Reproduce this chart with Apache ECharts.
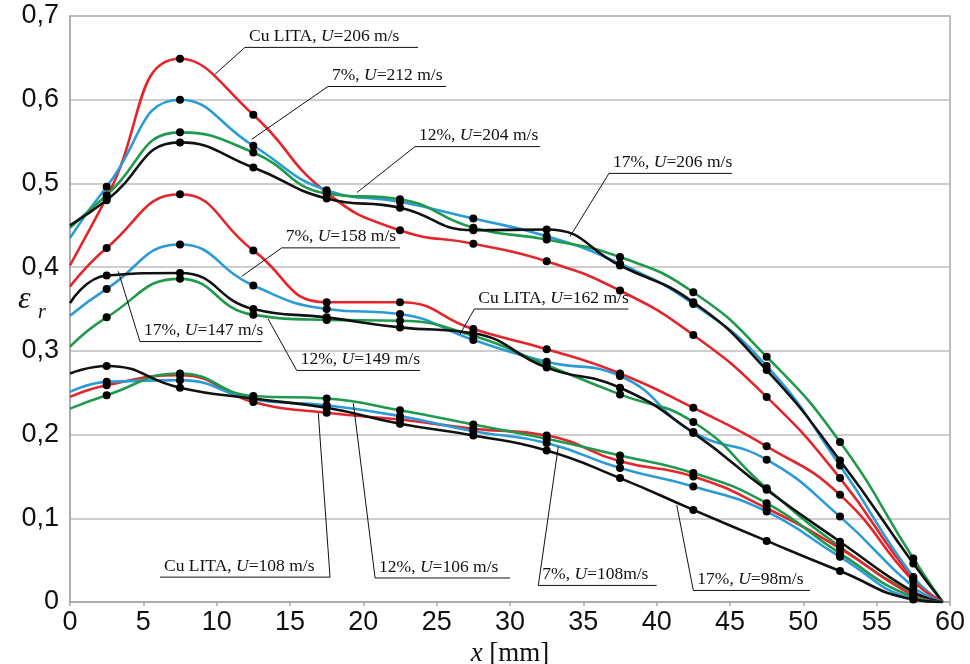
<!DOCTYPE html>
<html>
<head>
<meta charset="utf-8">
<script src="https://cdn.jsdelivr.net/npm/echarts@6/dist/echarts.min.js"></script>
<style>
  html, body { margin: 0; padding: 0; background: #fff; }
  #main { width: 970px; height: 664px; }
</style>
</head>
<body>
<div id="main"></div>
<script>
// x positions of the measurement points [mm]
const xPos = [0, 2.5, 7.5, 12.5, 17.5, 22.5, 27.5, 32.5, 37.5, 42.5, 47.5, 52.5, 57.5, 59.5];

// U ~ 205 m/s
const cuHigh  = [0.402, 0.483, 0.649, 0.582, 0.489, 0.444, 0.428, 0.407, 0.372, 0.319, 0.245, 0.148, 0.028, 0];
const p7High  = [0.435, 0.496, 0.600, 0.545, 0.492, 0.478, 0.458, 0.437, 0.404, 0.356, 0.282, 0.163, 0.030, 0];
const p12High = [0.447, 0.486, 0.561, 0.537, 0.488, 0.481, 0.447, 0.433, 0.412, 0.370, 0.293, 0.191, 0.052, 0];
const p17High = [0.450, 0.480, 0.549, 0.519, 0.482, 0.471, 0.444, 0.445, 0.402, 0.358, 0.277, 0.169, 0.046, 0];

// U ~ 150 m/s
const cuMid  = [0.377, 0.423, 0.487, 0.420, 0.358, 0.358, 0.326, 0.302, 0.273, 0.232, 0.186, 0.128, 0.025, 0];
const p7Mid  = [0.342, 0.374, 0.427, 0.378, 0.350, 0.344, 0.313, 0.287, 0.270, 0.203, 0.170, 0.102, 0.018, 0];
const p12Mid = [0.305, 0.340, 0.386, 0.343, 0.337, 0.336, 0.318, 0.283, 0.248, 0.215, 0.136, 0.066, 0.010, 0];
const p17Mid = [0.357, 0.390, 0.393, 0.350, 0.340, 0.328, 0.321, 0.280, 0.256, 0.202, 0.134, 0.072, 0.012, 0];

// U ~ 105 m/s
const cuLow  = [0.245, 0.259, 0.271, 0.239, 0.226, 0.218, 0.207, 0.199, 0.168, 0.150, 0.112, 0.064, 0.008, 0];
const p7Low  = [0.251, 0.263, 0.265, 0.242, 0.235, 0.222, 0.204, 0.190, 0.160, 0.138, 0.108, 0.054, 0.004, 0];
const p12Low = [0.231, 0.247, 0.273, 0.246, 0.243, 0.229, 0.212, 0.195, 0.175, 0.154, 0.118, 0.058, 0.006, 0];
const p17Low = [0.273, 0.282, 0.256, 0.243, 0.232, 0.213, 0.199, 0.181, 0.148, 0.110, 0.073, 0.037, 0.003, 0];

// curve labels
const labelTexts = [
  'Cu LITA, {i|U}=206 m/s', '7%, {i|U}=212 m/s', '12%, {i|U}=204 m/s', '17%, {i|U}=206 m/s',
  '7%, {i|U}=158 m/s', 'Cu LITA, {i|U}=162 m/s', '17%, {i|U}=147 m/s', '12%, {i|U}=149 m/s',
  'Cu LITA, {i|U}=108 m/s', '12%, {i|U}=106 m/s', '7%, {i|U}=108m/s', '17%, {i|U}=98m/s'
];

// where each label sits (data units): underline x1, x2, y, leader end x, y, leader side
const labelPlace = [
  [11.93, 23.73, 0.6625, 9.89, 0.6305, 'l'],
  [17.59, 25.64, 0.6158, 12.39, 0.5527, 'l'],
  [23.52, 32.05, 0.5440, 19.57, 0.4892, 'l'],
  [36.75, 45.14, 0.5120, 34.09, 0.4365, 'l'],
  [14.43, 22.50, 0.4230, 11.71, 0.3890, 'l'],
  [27.57, 38.07, 0.3500, 26.59, 0.3198, 'l'],
  [4.77, 13.09, 0.3111, 3.29, 0.3950, 'l'],
  [15.46, 23.86, 0.2766, 13.50, 0.3383, 'l'],
  [6.14, 17.73, 0.0297, 16.93, 0.2254, 'r'],
  [20.80, 30.00, 0.0287, 19.32, 0.2374, 'l'],
  [31.93, 40.00, 0.0198, 33.29, 0.1854, 'l'],
  [42.50, 50.45, 0.0138, 41.37, 0.1156, 'l']
];

const RED = '#e3262b', BLUE = '#2b9bd8', GREEN = '#1f9a4c', BLACK = '#111111';
const SERIF = '"Liberation Serif", "Times New Roman", serif';
const SANS = '"Liberation Sans Narrow", "Arial Narrow", "Liberation Sans", sans-serif';

const toData = (ys) => xPos.map((x, i) => [x, ys[i]]);

const makeSeries = (name, ys, color) => ({
  name: name,
  type: 'line',
  data: toData(ys),
  smooth: 0.5,
  smoothConstraint: false,
  symbol: 'circle',
  showAllSymbol: true,
  symbolSize: function (v, p) {
    // no dot on the start and end of the curve
    return (p.dataIndex === 0 || p.dataIndex === xPos.length - 1) ? 0 : 8;
  },
  lineStyle: { color: color, width: 2.6 },
  itemStyle: { color: '#000' },
  emphasis: { disabled: true },
  animation: false
});

var chart = echarts.init(document.getElementById('main'));

const option = {
  backgroundColor: '#fff',
  animation: false,
  grid: { left: 70, right: 20, top: 16, bottom: 62, show: true, borderColor: '#a8a8a8', borderWidth: 1.5, outerBoundsMode: 'none' },
  xAxis: {
    type: 'value', min: 0, max: 60, interval: 5,
    name: '{i|x} [mm]',
    nameLocation: 'middle', nameGap: 30,
    nameTextStyle: {
      fontFamily: SERIF, fontSize: 27, color: '#111',
      rich: { i: { fontFamily: SERIF, fontSize: 27, fontStyle: 'italic', color: '#111' } }
    },
    axisLine: { show: true, lineStyle: { color: '#a8a8a8', width: 1.5 } },
    axisTick: { show: true, length: 4, lineStyle: { color: '#a8a8a8', width: 1.5 } },
    axisLabel: { fontFamily: SANS, fontSize: 27, color: '#111', margin: 7 },
    splitLine: { show: false }
  },
  yAxis: {
    type: 'value', min: 0, max: 0.7, interval: 0.1,
    axisLine: { show: true, lineStyle: { color: '#a8a8a8', width: 1.5 } },
    axisTick: { show: false },
    axisLabel: {
      fontFamily: SANS, fontSize: 27, color: '#111', margin: 11,
      formatter: function (v) { return v === 0 ? '0' : v.toFixed(1).replace('.', ','); }
    },
    splitLine: { show: true, lineStyle: { color: '#bdbdbd', width: 1.5 } }
  },
  series: [
    makeSeries('Cu LITA 206', cuHigh, RED),
    makeSeries('7% 212', p7High, BLUE),
    makeSeries('12% 204', p12High, GREEN),
    makeSeries('17% 206', p17High, BLACK),
    makeSeries('Cu LITA 162', cuMid, RED),
    makeSeries('7% 158', p7Mid, BLUE),
    makeSeries('12% 149', p12Mid, GREEN),
    makeSeries('17% 147', p17Mid, BLACK),
    makeSeries('Cu LITA 108', cuLow, RED),
    makeSeries('7% 108', p7Low, BLUE),
    makeSeries('12% 106', p12Low, GREEN),
    makeSeries('17% 98', p17Low, BLACK)
  ]
};

chart.setOption(option);

// labels with underline and leader line
const px = (x, y) => chart.convertToPixel({ gridIndex: 0 }, [x, y]);
var graphics = [];
labelPlace.forEach(function (p, i) {
  const a = px(p[0], p[2]);
  const b = px(p[1], p[2]);
  const e = px(p[3], p[4]);
  const start = p[5] === 'l' ? a : b;
  const other = p[5] === 'l' ? b : a;
  graphics.push({
    type: 'polyline', silent: true, z: 10,
    shape: { points: [e, start, other] },
    style: { stroke: '#111', lineWidth: 1, fill: null }
  });
  graphics.push({
    type: 'text', silent: true, z: 10,
    x: a[0] + 4, y: a[1] - 2,
    style: {
      text: labelTexts[i],
      fontFamily: SERIF, fontSize: 17.5, fill: '#111',
      verticalAlign: 'bottom', align: 'left',
      rich: { i: { fontFamily: SERIF, fontSize: 17.5, fontStyle: 'italic', fill: '#111' } }
    }
  });
});

// y axis title: epsilon with subscript r
graphics.push({
  type: 'text', silent: true, left: 18, top: 284,
  style: { text: 'ε', fontFamily: SERIF, fontSize: 32, fontStyle: 'italic', fill: '#111' }
});
graphics.push({
  type: 'text', silent: true, left: 38, top: 303,
  style: { text: 'r', fontFamily: SERIF, fontSize: 20, fontStyle: 'italic', fill: '#111' }
});

chart.setOption({ graphic: graphics });
</script>
</body>
</html>
